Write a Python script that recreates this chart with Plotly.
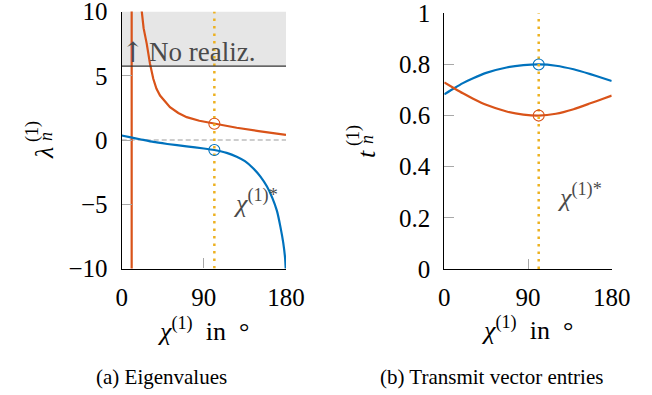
import plotly.graph_objects as go

W, H = 652, 395

# ---------------- data ----------------
# (a) eigenvalues vs chi^(1) in degrees
chi_lam_blue = [0, 10, 20, 34.6, 50, 71, 90, 101.5, 115, 126, 135, 144, 152, 159, 165, 170, 174, 177, 179, 180]
lam_blue = [0.35, 0.2, 0.06, -0.15, -0.31, -0.5, -0.66, -0.78, -1.0, -1.3, -1.65, -2.2, -2.85, -3.6, -4.5, -5.5, -6.8, -8.0, -9.2, -10.5]

chi_lam_orange = [0, 5, 9, 10.9, 10.95, 13, 16, 19, 22, 24, 27.4, 29, 31, 34.6, 38, 42, 52.9, 62, 71.2, 85, 101.5, 115, 126, 150, 165, 180]
lam_orange = [-10.5, -19, -58, -1000, 1000, 53, 21.6, 13.6, 10.0, 8.7, 7.5, 6.7, 5.93, 4.76, 4.0, 3.46, 2.55, 2.1, 1.78, 1.5, 1.26, 1.07, 0.95, 0.69, 0.53, 0.4]

no_realiz_threshold = 5.75
chi_star = 101.5
lam_star_blue = -0.78
lam_star_orange = 1.26

# (b) transmit vector entries
chi_t = [0, 11, 20, 31, 45, 67, 85, 101.5, 120, 139, 157, 170, 180]
t_blue = [0.683, 0.708, 0.727, 0.746, 0.767, 0.788, 0.797, 0.800, 0.795, 0.781, 0.762, 0.747, 0.735]
t_orange = [0.730, 0.706, 0.687, 0.666, 0.642, 0.616, 0.604, 0.600, 0.607, 0.625, 0.648, 0.665, 0.678]
t_star_blue = 0.800
t_star_orange = 0.600

x_ticks = [0, 90, 180]
lam_ticks = [-10, -5, 0, 5, 10]
t_ticks = [0, 0.2, 0.4, 0.6, 0.8, 1]

# ---------------- style ----------------
BLUE = "#0072BD"
ORANGE = "#D95319"
YELLOW = "#EDB120"
SERIF = "Liberation Serif"
TXT = "#4a4a4a"

def px(x):
    return x / W

def py(y):
    return 1 - y / H

fig = go.Figure()

def line(x, y, color, xa, ya, shape="linear", smoothing=0, width=2.2, dash=None):
    fig.add_trace(go.Scatter(x=x, y=y, mode="lines",
                             line=dict(color=color, width=width, shape=shape, smoothing=smoothing, dash=dash),
                             xaxis=xa, yaxis=ya, showlegend=False, hoverinfo="skip"))

def marker(x, y, color, xa, ya):
    fig.add_trace(go.Scatter(x=[x], y=[y], mode="markers",
                             marker=dict(symbol="circle-open", size=11, color=color, line=dict(width=1.1)),
                             xaxis=xa, yaxis=ya, showlegend=False, hoverinfo="skip", cliponaxis=False))

# (a)
line(chi_lam_orange, lam_orange, ORANGE, "x", "y")
line(chi_lam_blue, lam_blue, BLUE, "x", "y", shape="spline", smoothing=0.4)
line([chi_star, chi_star], [lam_ticks[0], lam_ticks[-1]], YELLOW, "x", "y", width=2.5, dash="2.5px,5px")
marker(chi_star, lam_star_blue, BLUE, "x", "y")
marker(chi_star, lam_star_orange, ORANGE, "x", "y")

# (b)
line(chi_t, t_blue, BLUE, "x2", "y2", shape="spline", smoothing=0.5)
line(chi_t, t_orange, ORANGE, "x2", "y2", shape="spline", smoothing=0.5)
line([chi_star, chi_star], [t_ticks[0], t_ticks[-1]], YELLOW, "x2", "y2", width=2.5, dash="2.5px,5px")
marker(chi_star, t_star_blue, BLUE, "x2", "y2")
marker(chi_star, t_star_orange, ORANGE, "x2", "y2")

axis_common = dict(showgrid=False, zeroline=False, showline=True, linecolor="black", linewidth=1.2,
                   ticks="inside", ticklen=10, tickwidth=1.2, tickcolor="#a8a8a8", automargin=False,
                   ticklabeloverflow="allow",
                   tickfont=dict(family=SERIF, size=25, color="black"), fixedrange=True)

shapes = [
    dict(type="rect", xref="x", yref="y", x0=0, x1=180, y0=no_realiz_threshold, y1=10,
         fillcolor="#e6e6e6", line=dict(width=0), layer="below"),
    dict(type="line", xref="x", yref="y", x0=0, x1=180, y0=no_realiz_threshold, y1=no_realiz_threshold,
         line=dict(color="#333333", width=1.3)),
    dict(type="line", xref="x", yref="y", x0=0, x1=180, y0=0, y1=0,
         line=dict(color="#bdbdbd", width=1.6, dash="5px,3px"), layer="below"),
]

def ann(x, y, text, size, color="black", angle=0, xanchor="center", family=SERIF):
    return dict(x=px(x), y=py(y), xref="paper", yref="paper", xanchor=xanchor, yanchor="middle",
                textangle=angle, text=text, showarrow=False,
                font=dict(family=family, size=size, color=color))

annotations = [
    ann(132.5, 52, "↑", 28, TXT, family="DejaVu Serif"),
    ann(147, 52, "No realiz.", 27, TXT, xanchor="left"),
    ann(255, 201, "<i>χ</i><sup>(1)*</sup>", 26, TXT),
    ann(579, 195, "<i>χ</i><sup>(1)*</sup>", 26, TXT),
    ann(203.5, 329, "<i>χ</i><sup>(1)</sup>\u2002in\u2002°", 26),
    ann(527, 328, "<i>χ</i><sup>(1)</sup>\u2002in\u2002°", 26),
    # lambda_n^(1)
    ann(44, 153, "<i>λ</i>", 26, angle=-90),
    ann(32, 132, "(1)", 18, angle=-90),
    ann(46, 137, "<i>n</i>", 18, angle=-90),
    # t_n^(1)
    ann(366, 154, "<i>t</i>", 26, angle=-90),
    ann(353, 136, "(1)", 18, angle=-90),
    ann(367, 140, "<i>n</i>", 18, angle=-90),
    # captions
    ann(161, 377, "(a) Eigenvalues", 21),
    ann(491, 377, "(b) Transmit vector entries", 21),
]

fig.update_layout(
    width=W, height=H, margin=dict(l=0, r=0, t=0, b=0, pad=0, autoexpand=False),
    paper_bgcolor="white", plot_bgcolor="rgba(0,0,0,0)",
    font=dict(family=SERIF, color="black"),
    xaxis=dict(domain=[px(121.7), px(286)], range=[0, 180], tickvals=x_ticks,
               ticklabelstandoff=6, anchor="y", **axis_common),
    yaxis=dict(domain=[py(268.5), py(11.5)], range=[-10, 10], tickvals=lam_ticks,
               ticklabelstandoff=8, anchor="x", **axis_common),
    xaxis2=dict(domain=[px(444.3), px(611.7)], range=[0, 180], tickvals=x_ticks,
                ticklabelstandoff=6, anchor="y2", **axis_common),
    yaxis2=dict(domain=[py(269), py(13.3)], range=[0, 1], tickvals=t_ticks,
                ticklabelstandoff=8, anchor="x2", **axis_common),
    shapes=shapes, annotations=annotations,
)

fig.write_html("out.html")
